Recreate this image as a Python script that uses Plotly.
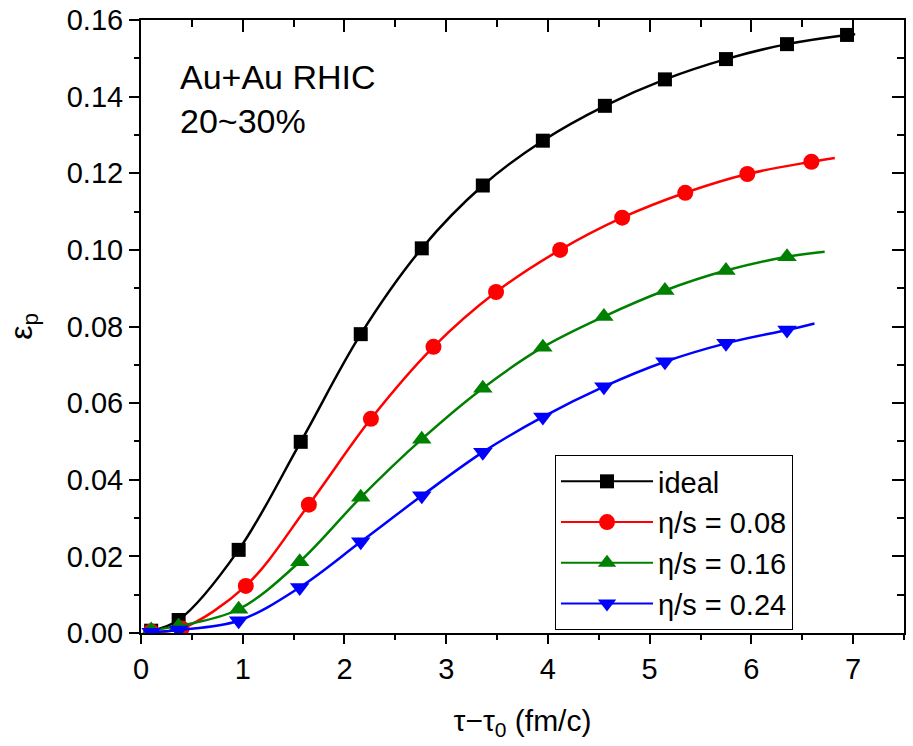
import plotly.graph_objects as go

# ---------------- data ----------------
ideal_x = [0.10, 0.37, 0.96, 1.57, 2.16, 2.76, 3.36, 3.95, 4.56, 5.15, 5.75, 6.35, 6.94]
ideal_y = [0.0006, 0.0034, 0.0217, 0.0499, 0.0780, 0.1004, 0.1168, 0.1285, 0.1376, 0.1445, 0.1498, 0.1537, 0.1561]
ideal_end = (7.02, 0.1563)

v08_x = [0.10, 0.40, 1.03, 1.65, 2.26, 2.875, 3.49, 4.12, 4.73, 5.35, 5.96, 6.59]
v08_y = [0.0004, 0.0012, 0.0123, 0.0335, 0.0559, 0.0747, 0.0890, 0.1000, 0.1084, 0.1149, 0.1198, 0.1230]
v08_end = (6.82, 0.1240)

v16_x = [0.10, 0.37, 0.96, 1.56, 2.16, 2.76, 3.36, 3.95, 4.55, 5.15, 5.75, 6.35]
v16_y = [0.0008, 0.0018, 0.0062, 0.0186, 0.0354, 0.0506, 0.0639, 0.0746, 0.0826, 0.0894, 0.0946, 0.0982]
v16_end = (6.72, 0.0995)

v24_x = [0.10, 0.37, 0.96, 1.56, 2.16, 2.76, 3.36, 3.95, 4.55, 5.15, 5.75, 6.35]
v24_y = [0.0002, 0.0008, 0.0032, 0.0119, 0.0238, 0.0358, 0.0472, 0.0564, 0.0643, 0.0708, 0.0756, 0.0791]
v24_end = (6.62, 0.0808)

series_names = ["ideal", "η/s = 0.08", "η/s = 0.16", "η/s = 0.24"]
x_tick_vals = [0, 1, 2, 3, 4, 5, 6, 7]
y_tick_vals = [0.00, 0.02, 0.04, 0.06, 0.08, 0.10, 0.12, 0.14, 0.16]

# ---------------- styling ----------------
FONT = "Liberation Sans, Arial, sans-serif"
styles = [
    dict(color="#000000", symbol="square", size=14),
    dict(color="#FF0000", symbol="circle", size=16),
    dict(color="#008000", symbol="triangle-up", size=17),
    dict(color="#0000FF", symbol="triangle-down", size=17),
]
data = [
    (ideal_x, ideal_y, ideal_end),
    (v08_x, v08_y, v08_end),
    (v16_x, v16_y, v16_end),
    (v24_x, v24_y, v24_end),
]

fig = go.Figure()
for name, (xs, ys, end), st in zip(series_names, data, styles):
    fig.add_trace(go.Scatter(
        x=list(xs) + [end[0]], y=list(ys) + [end[1]],
        mode="lines", line=dict(color=st["color"], width=2.5, shape="spline", smoothing=1.0),
        showlegend=False, hoverinfo="skip", legendgroup=name,
    ))
    fig.add_trace(go.Scatter(
        x=xs, y=ys, mode="markers",
        marker=dict(color=st["color"], symbol=st["symbol"], size=st["size"], line=dict(width=0)),
        showlegend=False, legendgroup=name,
    ))
    fig.add_trace(go.Scatter(
        x=[None], y=[None], mode="lines+markers", name=name, legendgroup=name,
        line=dict(color=st["color"], width=2),
        marker=dict(color=st["color"], symbol=st["symbol"], size=st["size"], line=dict(width=0)),
    ))

fig.add_trace(go.Scatter(x=[None], y=[None], xaxis="x2", yaxis="y2",
                         showlegend=False, hoverinfo="skip"))

axis_common = dict(showgrid=False, zeroline=False, showline=True, linecolor="black",
                   linewidth=2, tickcolor="black", tickwidth=2, automargin=False)

fig.update_layout(
    width=913, height=746,
    margin=dict(l=141, r=9, t=20, b=113),
    paper_bgcolor="white", plot_bgcolor="white",
    font=dict(family=FONT, size=28, color="black"),
    xaxis=dict(**axis_common, range=[0, 7.5], tickvals=x_tick_vals, ticks="outside", ticklen=9,
               minor=dict(dtick=0.5, ticks="outside", ticklen=5, tickwidth=2, tickcolor="black"),
               tickfont=dict(size=29), mirror=False,
               title=dict(text="τ−τ<sub>0</sub> (fm/c)", font=dict(size=30), standoff=26)),
    yaxis=dict(**axis_common, range=[0, 0.16], tickvals=y_tick_vals, tickformat=".2f",
               ticks="outside", ticklen=10,
               minor=dict(dtick=0.01, ticks="outside", ticklen=5, tickwidth=2, tickcolor="black"),
               tickfont=dict(size=29), mirror=False,
               title=dict(text="ε<sub>p</sub>", font=dict(size=32), standoff=25)),
    xaxis2=dict(**axis_common, overlaying="x", side="top", range=[0, 7.5], tickvals=x_tick_vals,
                ticks="inside", ticklen=12, showticklabels=False,
                minor=dict(dtick=0.5, ticks="inside", ticklen=7, tickwidth=2, tickcolor="black")),
    yaxis2=dict(**axis_common, overlaying="y", side="right", range=[0, 0.16], tickvals=y_tick_vals,
                ticks="inside", ticklen=12, showticklabels=False,
                minor=dict(dtick=0.01, ticks="inside", ticklen=7, tickwidth=2, tickcolor="black")),
    legend=dict(x=0.5426, y=0.2904, xanchor="left", yanchor="top",
                bgcolor="white", bordercolor="black", borderwidth=1,
                font=dict(size=29), itemwidth=92, tracegroupgap=0),
    annotations=[dict(text="Au+Au RHIC<br>20~30%", xref="paper", yref="paper",
                      x=0.048, y=0.942, xanchor="left", yanchor="top", align="left",
                      showarrow=False, font=dict(size=34))],
)

fig.write_html("out.html", config={"displayModeBar": False},
               post_script="document.body.style.margin='0';document.body.style.overflow='hidden';")
